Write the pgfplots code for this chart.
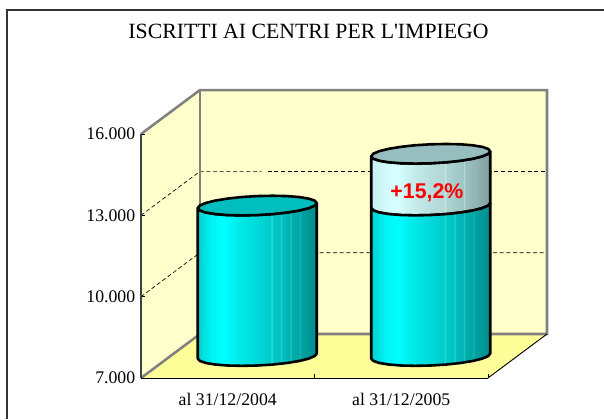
\documentclass[border=0pt]{standalone}
\usepackage{fontspec}
\setmainfont{Liberation Serif}
\newfontfamily\labelfont{Liberation Sans}
\usepackage{pgfplots}
\usepackage{pgfplotstable}
\pgfplotsset{compat=1.18}

\definecolor{wall}{RGB}{255,255,204}
\definecolor{floorc}{RGB}{255,255,153}
\definecolor{edge}{RGB}{128,128,128}

% body gradients, the box of the path is 25bp..75bp
\pgfdeclarehorizontalshading{cyanbody}{100bp}{
  rgb(0bp)=(0,.78,.78); rgb(25bp)=(0,.82,.82); rgb(31bp)=(0,.96,.96); rgb(36bp)=(0,1,1);
  rgb(42bp)=(0,.92,.92); rgb(50bp)=(0,.85,.85); rgb(55.5bp)=(0,.80,.80); rgb(56bp)=(.2,.9,.85);
  rgb(56.5bp)=(0,.79,.79); rgb(59.5bp)=(0,.76,.76); rgb(60bp)=(.15,.85,.8); rgb(60.5bp)=(0,.74,.74);
  rgb(63.5bp)=(0,.70,.70); rgb(64bp)=(.15,.8,.75); rgb(64.5bp)=(0,.68,.68); rgb(67.5bp)=(0,.65,.65);
  rgb(68bp)=(.1,.72,.7); rgb(68.5bp)=(0,.63,.63); rgb(75bp)=(0,.55,.55); rgb(100bp)=(0,.5,.5)}
\pgfdeclarehorizontalshading{greybody}{100bp}{
  rgb(0bp)=(.78,.95,.95); rgb(25bp)=(.78,.95,.95); rgb(31bp)=(.82,.98,.98); rgb(36bp)=(.84,1,1);
  rgb(42bp)=(.78,.93,.93); rgb(50bp)=(.72,.87,.87); rgb(55.5bp)=(.70,.84,.84); rgb(56bp)=(.8,.92,.88);
  rgb(56.5bp)=(.68,.83,.83); rgb(63.5bp)=(.62,.77,.77); rgb(64bp)=(.7,.84,.82); rgb(64.5bp)=(.6,.75,.75);
  rgb(68bp)=(.58,.72,.72); rgb(75bp)=(.50,.62,.62); rgb(100bp)=(.5,.6,.6)}

% one cylinder outline around its centre: u in categories, v in axis units, k=1 on the upper rim
\pgfplotstableread{
u v k
-.3429 -92 0
-.3312 -180 0
-.2970 -255 0
-.2425 -313 0
-.1715 -350 0
-.0887 -362 0
0 -350 0
.0887 -315 0
.1715 -257 0
.2425 -183 0
.2970 -95 0
.3312 -2 0
.3429 92 0
.3429 92 1
.3312 -2 1
.2970 -95 1
.2425 -183 1
.1715 -257 1
.0887 -315 1
0 -350 1
-.0887 -362 1
-.1715 -350 1
-.2425 -313 1
-.2970 -255 1
-.3312 -180 1
-.3429 -92 1
}\bodyshape

\pgfplotstableread{
u v
.3429 92
.3312 180
.2970 255
.2425 313
.1715 350
.0887 362
0 350
-.0887 315
-.1715 257
-.2425 183
-.2970 95
-.3312 2
-.3429 -92
-.3312 -180
-.2970 -255
-.2425 -313
-.1715 -350
-.0887 -362
0 -350
.0887 -315
.1715 -257
.2425 -183
.2970 -95
.3312 -2
}\capshape

% x offset .17 and y offset 811: half of the depth of the 3D box
\newcommand{\cylbody}[4]{\addplot[draw=black, line width=1.95pt, line join=round, shade, shading=#4]
  table[x expr=#1+.17+\thisrow{u}, y expr=#2+811+\thisrow{k}*(#3-#2)+\thisrow{v}] {\bodyshape} -- cycle;}
\newcommand{\cylcap}[3]{\addplot[draw=black, line width=1.95pt, line join=round, fill=#3]
  table[x expr=#1+.17+\thisrow{u}, y expr=#2+811+\thisrow{v}] {\capshape} -- cycle;}

\begin{document}
\begin{tikzpicture}
\begin{axis}[
  scale only axis, width=260.25pt, height=183pt,
  xmin=0, xmax=2, ymin=7000, ymax=16000,
  clip=false, axis on top,
  axis x line*=bottom, axis y line*=left,
  x axis line style={-, line width=.7pt},
  y axis line style={-, line width=1.4pt, color=black!75},
  ytick={7000,10000,13000,16000},
  scaled y ticks=false,
  y tick label style={/pgf/number format/.cd, fixed, 1000 sep={.}, assume math mode=true, /tikz/.cd, font=\fontsize{13.3}{15}\selectfont, xshift=-.8pt},
  xtick={0,1,2}, xticklabels={},
  extra x ticks={0.5,1.5},
  extra x tick labels={al 31/12/2004,al 31/12/2005},
  extra x tick style={major tick length=0pt, tick label style={font=\fontsize{13.3}{15}\selectfont, yshift=-8pt}},
  major tick length=3pt,
  tick style={black, line width=.7pt},
  title={ISCRITTI AI CENTRI PER L\textquotesingle IMPIEGO},
  title style={at={(axis description cs:0.4827,1.389)}, anchor=center, font=\fontsize{16.3}{18}\selectfont},
]
% walls of the box
\addplot[fill=wall, draw=none] coordinates {(0,7000) (0,16000) (.34,17623) (.34,8623)} -- cycle;
\addplot[fill=wall, draw=none] coordinates {(.34,8623) (.34,17623) (2.34,17623) (2.34,8623)} -- cycle;
\addplot[fill=floorc, draw=none] coordinates {(0,7000) (.34,8623) (2.34,8623) (2,7000)} -- cycle;
% grid at 10.000 and 13.000
\addplot[black, densely dashed, line width=.5pt] coordinates {(0,10000) (.34,11623) (2.34,11623)};
\addplot[black, densely dashed, line width=.5pt] coordinates {(0,13000) (.34,14623) (.695,14623)};
\addplot[black, densely dashed, line width=.5pt] coordinates {(.73,14623) (2.34,14623)};
% edges
\addplot[edge, line width=1.9pt, line join=miter] coordinates {(0,16000) (.34,17623) (2.34,17623) (2.34,8623) (.34,8623) (0,7000)};
\addplot[edge, line width=1.9pt] coordinates {(.34,8623) (.34,17623)};
\addplot[black, line width=.7pt] coordinates {(2,7000) (2.34,8623)};
% cylinders
\cylbody{0.5}{7000}{12550}{cyanbody}
\cylcap{0.5}{12550}{{rgb,255:red,0;green,190;blue,190}}
\cylbody{1.5}{12550}{14460}{greybody}
\cylbody{1.5}{7000}{12550}{cyanbody}
\cylcap{1.5}{14460}{{rgb,255:red,150;green,190;blue,190}}
\node[text=red, font=\labelfont\bfseries\fontsize{16}{18}\selectfont] at (axis cs:1.648,13840) {+15,2\%};
\end{axis}
\pgfresetboundingbox
\useasboundingbox (-105.75pt,-30.75pt) rectangle ++(453pt,314.25pt);
\draw[black!80, line width=1.5pt] (-100.5pt,-30.75pt) -- (-100.5pt,275.65pt) -- (347.25pt,275.65pt);
\end{tikzpicture}
\end{document}
